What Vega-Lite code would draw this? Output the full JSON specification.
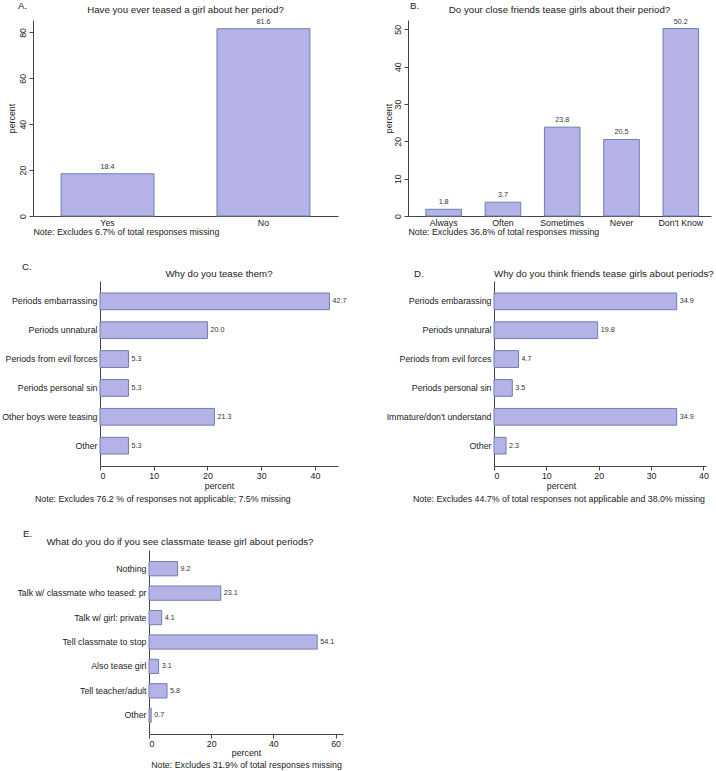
{
  "$schema": "https://vega.github.io/schema/vega-lite/v6.json",
  "padding": {"left": 0, "top": 1, "right": 0, "bottom": 0},
  "autosize": {"type": "pad"},
  "datasets": {
    "A": [{"resp": "Yes", "pct": 18.4}, {"resp": "No", "pct": 81.6}],
    "B": [{"resp": "Always", "pct": 1.8}, {"resp": "Often", "pct": 3.7}, {"resp": "Sometimes", "pct": 23.8}, {"resp": "Never", "pct": 20.5}, {"resp": "Don't Know", "pct": 50.2}],
    "C": [{"reason": "Periods embarrassing", "pct": 42.7}, {"reason": "Periods unnatural", "pct": 20.0}, {"reason": "Periods from evil forces", "pct": 5.3}, {"reason": "Periods personal sin", "pct": 5.3}, {"reason": "Other boys were teasing", "pct": 21.3}, {"reason": "Other", "pct": 5.3}],
    "D": [{"reason": "Periods embarassing", "pct": 34.9}, {"reason": "Periods unnatural", "pct": 19.8}, {"reason": "Periods from evil forces", "pct": 4.7}, {"reason": "Periods personal sin", "pct": 3.5}, {"reason": "Immature/don't understand", "pct": 34.9}, {"reason": "Other", "pct": 2.3}],
    "E": [{"action": "Nothing", "pct": 9.2}, {"action": "Talk w/ classmate who teased: pr", "pct": 23.1}, {"action": "Talk w/ girl: private", "pct": 4.1}, {"action": "Tell classmate to stop", "pct": 54.1}, {"action": "Also tease girl", "pct": 3.1}, {"action": "Tell teacher/adult", "pct": 5.8}, {"action": "Other", "pct": 0.7}],
    "none": []
  },
  "spacing": 25,
  "vconcat": [
    {
      "bounds": "flush",
      "spacing": 0,
      "hconcat": [
        {"width": 33, "height": 196, "data": {"name": "none"}, "mark": "point",
         "title": {"text": "A.", "anchor": "start", "frame": "group", "dx": 18, "offset": 9}},
        {
          "width": 305, "height": 196,
          "title": {"text": "Have you ever teased a girl about her period?", "anchor": "middle", "frame": "group", "offset": 3},
          "data": {"name": "A"},
          "encoding": {
            "x": {"field": "resp", "type": "nominal", "sort": null,
                  "scale": {"paddingInner": 0.404, "paddingOuter": 0.18},
                  "axis": {"title": "Note: Excludes 6.7% of total responses missing", "titleAnchor": "start", "labelAngle": 0, "ticks": false, "labelPadding": 2, "titlePadding": 1}},
            "y": {"field": "pct", "type": "quantitative",
                  "scale": {"domain": [0, 85.4], "nice": false},
                  "axis": {"title": "percent", "values": [0, 20, 40, 60, 80], "labelAngle": -90, "labelAlign": "center", "labelBaseline": "bottom", "labelPadding": 2, "titlePadding": 2}}
          },
          "layer": [
            {"mark": {"type": "bar", "fill": "#b4b2e6", "stroke": "#6b80b0", "strokeWidth": 1}},
            {"mark": {"type": "text", "baseline": "bottom", "dy": -3, "fontSize": 7.2, "color": "#333"},
             "encoding": {"text": {"field": "pct", "type": "quantitative", "format": ".1f"}}}
          ]
        },
        {"width": 70, "height": 196, "data": {"name": "none"}, "mark": "point",
         "title": {"text": "B.", "anchor": "start", "frame": "group", "dx": 72, "offset": 9}},
        {
          "width": 303, "height": 196,
          "title": {"text": "Do your close friends tease girls about their period?", "anchor": "middle", "frame": "group", "offset": 3},
          "data": {"name": "B"},
          "encoding": {
            "x": {"field": "resp", "type": "nominal", "sort": null,
                  "scale": {"paddingInner": 0.4, "paddingOuter": 0.255, "align": 0.59},
                  "axis": {"title": "Note: Excludes 36.8% of total responses missing", "titleAnchor": "start", "labelAngle": 0, "ticks": false, "labelPadding": 2, "titlePadding": 1}},
            "y": {"field": "pct", "type": "quantitative",
                  "scale": {"domain": [0, 52.5], "nice": false},
                  "axis": {"title": "percent", "values": [0, 10, 20, 30, 40, 50], "labelAngle": -90, "labelAlign": "center", "labelBaseline": "bottom", "labelPadding": 2, "titlePadding": 0}}
          },
          "layer": [
            {"mark": {"type": "bar", "fill": "#b4b2e6", "stroke": "#6b80b0", "strokeWidth": 1}},
            {"mark": {"type": "text", "baseline": "bottom", "dy": -3, "fontSize": 7.2, "color": "#333"},
             "encoding": {"text": {"field": "pct", "type": "quantitative", "format": ".1f"}}}
          ]
        }
      ]
    },
    {
      "bounds": "flush",
      "spacing": 0,
      "hconcat": [
        {"width": 22, "height": 185, "data": {"name": "none"}, "mark": "point",
         "title": {"text": "C.", "anchor": "start", "frame": "group", "dx": 22, "offset": 9}},
        {"width": 78, "height": 185, "data": {"name": "none"}, "mark": "point",
         "title": {"text": "Note: Excludes 76.2 % of responses not applicable; 7.5% missing", "orient": "bottom", "anchor": "start", "frame": "group", "dx": 13, "offset": 29, "fontSize": 8.8}},
        {
          "width": 238, "height": 185,
          "title": {"text": "Why do you tease them?", "anchor": "middle", "frame": "group", "offset": 2},
          "data": {"name": "C"},
          "encoding": {
            "y": {"field": "reason", "type": "nominal", "sort": null,
                  "scale": {"paddingInner": 0.42, "paddingOuter": 0.415},
                  "axis": {"title": null, "ticks": false, "labelPadding": 3}},
            "x": {"field": "pct", "type": "quantitative",
                  "scale": {"domain": [0, 44.3], "nice": false},
                  "axis": {"title": "percent", "values": [0, 10, 20, 30, 40], "labelPadding": 1, "titlePadding": 2}}
          },
          "layer": [
            {"mark": {"type": "bar", "fill": "#b4b2e6", "stroke": "#6b80b0", "strokeWidth": 1}},
            {"mark": {"type": "text", "align": "left", "dx": 3, "fontSize": 7.2, "color": "#333"},
             "encoding": {"text": {"field": "pct", "type": "quantitative", "format": ".1f"}}}
          ]
        },
        {"width": 75, "height": 185, "data": {"name": "none"}, "mark": "point",
         "title": {"text": "D.", "anchor": "start", "frame": "group", "dx": 76, "offset": 2}},
        {"width": 81, "height": 185, "data": {"name": "none"}, "mark": "point",
         "title": {"text": "Note: Excludes 44.7% of total responses not applicable and 38.0% missing", "orient": "bottom", "anchor": "start", "frame": "group", "dx": 0, "offset": 29, "fontSize": 8.8}},
        {
          "width": 212, "height": 185,
          "title": {"text": "Why do you think friends tease girls about periods?", "anchor": "start", "frame": "group", "offset": 2},
          "data": {"name": "D"},
          "encoding": {
            "y": {"field": "reason", "type": "nominal", "sort": null,
                  "scale": {"paddingInner": 0.42, "paddingOuter": 0.415},
                  "axis": {"title": null, "ticks": false, "labelPadding": 3}},
            "x": {"field": "pct", "type": "quantitative",
                  "scale": {"domain": [0, 40.5], "nice": false},
                  "axis": {"title": "percent", "titleX": 67, "values": [0, 10, 20, 30, 40], "labelPadding": 1, "titlePadding": 2}}
          },
          "layer": [
            {"mark": {"type": "bar", "fill": "#b4b2e6", "stroke": "#6b80b0", "strokeWidth": 1}},
            {"mark": {"type": "text", "align": "left", "dx": 3, "fontSize": 7.2, "color": "#333"},
             "encoding": {"text": {"field": "pct", "type": "quantitative", "format": ".1f"}}}
          ]
        }
      ]
    },
    {
      "bounds": "flush",
      "spacing": 0,
      "hconcat": [
        {"width": 149, "height": 184, "data": {"name": "none"}, "mark": "point",
         "title": {"text": "E.", "anchor": "start", "frame": "group", "dx": 23, "offset": 11}},
        {
          "width": 194, "height": 184,
          "title": {"text": "What do you do if you see classmate tease girl about periods?", "anchor": "middle", "frame": "bounds", "offset": 3},
          "data": {"name": "E"},
          "encoding": {
            "y": {"field": "action", "type": "nominal", "sort": null,
                  "scale": {"paddingInner": 0.417, "paddingOuter": 0.475},
                  "axis": {"title": null, "ticks": false, "labelPadding": 3}},
            "x": {"field": "pct", "type": "quantitative",
                  "scale": {"domain": [0, 62.4], "nice": false},
                  "axis": {"title": ["percent", "Note: Excludes 31.9% of total responses missing"], "titleLineHeight": 12, "values": [0, 20, 40, 60], "labelPadding": 1, "titlePadding": 1}}
          },
          "layer": [
            {"mark": {"type": "bar", "fill": "#b4b2e6", "stroke": "#6b80b0", "strokeWidth": 1}},
            {"mark": {"type": "text", "align": "left", "dx": 3, "fontSize": 7.2, "color": "#333"},
             "encoding": {"text": {"field": "pct", "type": "quantitative", "format": ".1f"}}}
          ]
        }
      ]
    }
  ],
  "config": {
    "font": "Liberation Sans",
    "view": {"stroke": null},
    "axis": {"grid": false, "labelFontSize": 8.8, "titleFontSize": 8.8, "titleFontWeight": "normal", "labelColor": "#222", "titleColor": "#222", "domainColor": "#444", "tickColor": "#444", "tickSize": 4, "labelLimit": 200},
    "title": {"fontSize": 9.7, "fontWeight": "normal", "color": "#222"}
  }
}
